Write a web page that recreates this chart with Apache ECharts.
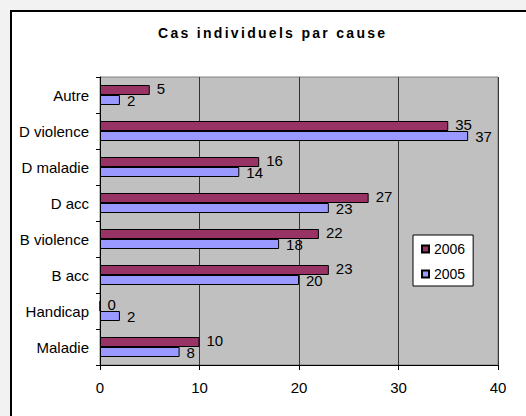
<!DOCTYPE html>
<html>
<head>
<meta charset="utf-8">
<script src="https://cdn.jsdelivr.net/npm/echarts@6/dist/echarts.min.js"></script>
<style>
  html, body { margin: 0; padding: 0; background: #f2f2f2; width: 526px; height: 416px; overflow: hidden; }
  #frame { position: absolute; left: 10px; top: 10px; width: 600px; height: 600px; background: #fff;
           border-left: 2px solid #000; border-top: 2px solid #000; }
  #chart { position: absolute; left: 0; top: 0; width: 526px; height: 416px; }
  #chart text[style*="bold"] { letter-spacing: 2.3px; }
</style>
</head>
<body>
<div id="frame"></div>
<div id="chart"></div>
<script>
// categories listed from bottom to top of the chart
const categories = ['Maladie', 'Handicap', 'B acc', 'B violence', 'D acc', 'D maladie', 'D violence', 'Autre'];
const values2006 = [10, 0, 23, 22, 27, 16, 35, 5];
const values2005 = [8, 2, 20, 18, 23, 14, 37, 2];
const seriesNames = ['2006', '2005'];
const xTicks = [0, 10, 20, 30, 40];
const titleText = 'Cas individuels par cause';

const FONT = '"Liberation Sans", Arial, sans-serif';
const chart = echarts.init(document.getElementById('chart'), null, { renderer: 'svg' });

const labelStyle = (dy) => ({
  show: true, position: 'right', distance: 7, offset: [0, dy],
  color: '#000', fontSize: 15, fontFamily: FONT
});

chart.setOption({
  backgroundColor: 'transparent',
  animation: false,
  title: {
    text: titleText, left: 158, top: 26, padding: 0,
    textStyle: { fontSize: 14, fontWeight: 'bold', fontFamily: FONT, color: '#000' }
  },
  legend: {
    data: seriesNames, orient: 'vertical', left: 413, top: 235,
    backgroundColor: '#fff', borderColor: '#000', borderWidth: 1,
    padding: [7, 8, 5, 8], itemGap: 11, itemWidth: 7, itemHeight: 7,
    icon: 'rect',
    textStyle: { fontSize: 14, fontFamily: FONT, color: '#000' }
  },
  grid: {
    left: 100, right: 28, top: 77, bottom: 51, containLabel: false,
    show: true, backgroundColor: '#c0c0c0', borderColor: '#808080', borderWidth: 1
  },
  xAxis: {
    type: 'value', min: xTicks[0], max: xTicks[xTicks.length - 1], interval: 10,
    axisLine: { show: true, lineStyle: { color: '#000', width: 1 } },
    axisTick: { show: true, length: 5, lineStyle: { color: '#000' } },
    axisLabel: { color: '#000', fontSize: 15, fontFamily: FONT, margin: 15 },
    splitLine: { show: true, lineStyle: { color: '#333', width: 1 } }
  },
  yAxis: {
    type: 'category', data: categories,
    axisLine: { show: true, lineStyle: { color: '#000', width: 1 } },
    axisTick: { show: true, length: 4, lineStyle: { color: '#000' } },
    axisLabel: { color: '#000', fontSize: 15, fontFamily: FONT, margin: 11 },
    splitLine: { show: false }
  },
  series: [
    {
      name: seriesNames[0], type: 'bar', data: values2006, barWidth: 10, barGap: '0%',
      itemStyle: { color: '#993366', borderColor: '#000', borderWidth: 1 },
      label: labelStyle(-1.5)
    },
    {
      name: seriesNames[1], type: 'bar', data: values2005, barWidth: 10, barGap: '0%',
      itemStyle: { color: '#9999ff', borderColor: '#000', borderWidth: 1 },
      label: labelStyle(0)
    }
  ]
});
</script>
</body>
</html>
